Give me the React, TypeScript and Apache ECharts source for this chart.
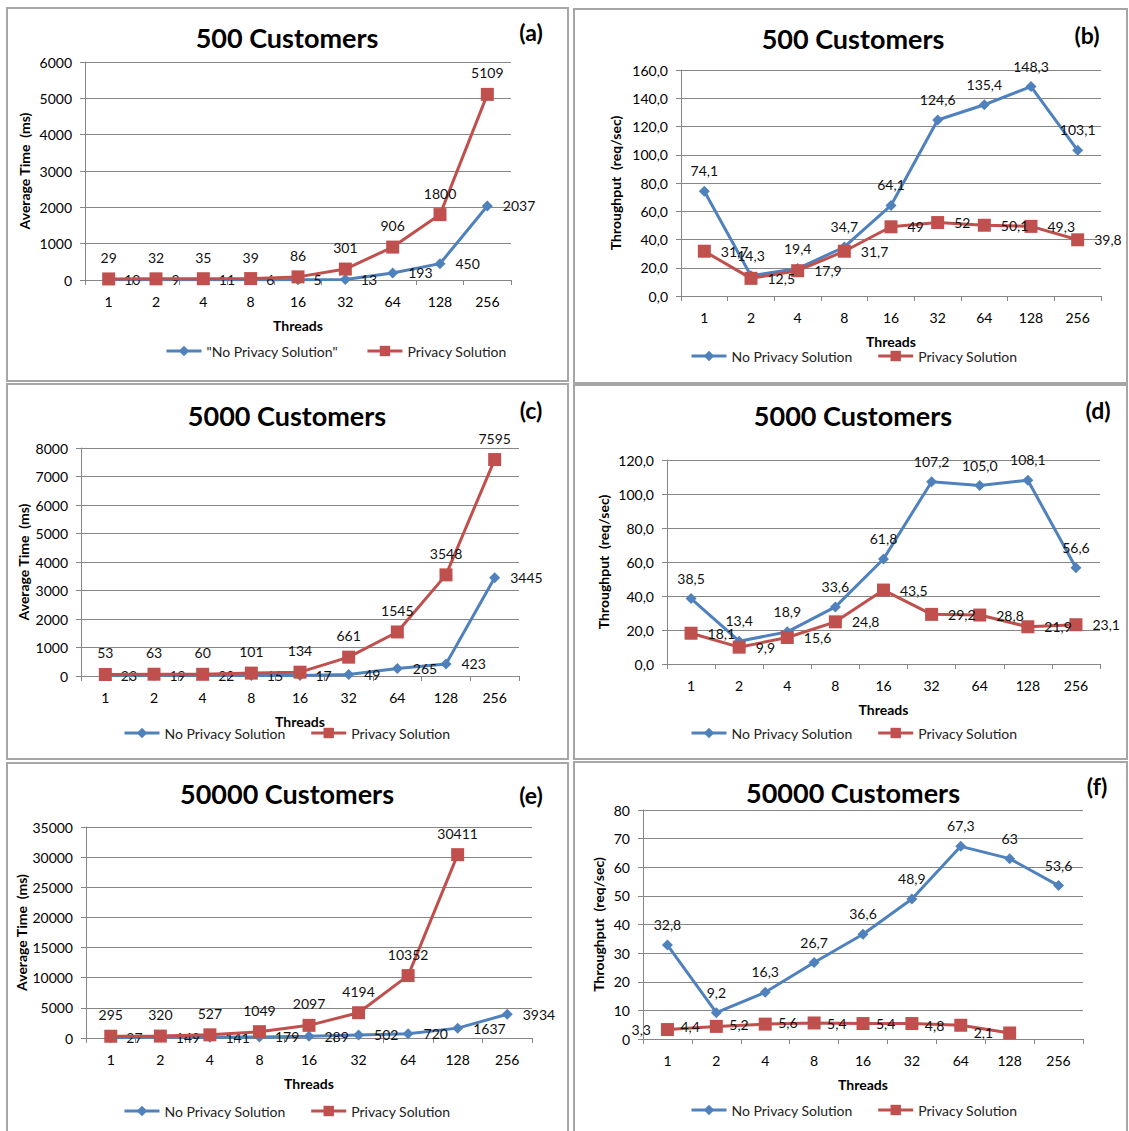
import React, { useEffect, useRef } from "react";
import * as echarts from "echarts";

const categories = ["1", "2", "4", "8", "16", "32", "64", "128", "256"];

const aNoPrivacy = [10, 9, 11, 6, 5, 13, 193, 450, 2037];
const aPrivacy = [29, 32, 35, 39, 86, 301, 906, 1800, 5109];
const bNoPrivacy = [74.1, 14.3, 19.4, 34.7, 64.1, 124.6, 135.4, 148.3, 103.1];
const bPrivacy = [31.7, 12.5, 17.9, 31.7, 49, 52, 50.1, 49.3, 39.8];
const cNoPrivacy = [23, 19, 22, 15, 17, 49, 265, 423, 3445];
const cPrivacy = [53, 63, 60, 101, 134, 661, 1545, 3548, 7595];
const dNoPrivacy = [38.5, 13.4, 18.9, 33.6, 61.8, 107.2, 105.0, 108.1, 56.6];
const dPrivacy = [18.1, 9.9, 15.6, 24.8, 43.5, 29.2, 28.8, 21.9, 23.1];
const eNoPrivacy = [27, 149, 141, 179, 289, 502, 720, 1637, 3934];
const ePrivacy = [295, 320, 527, 1049, 2097, 4194, 10352, 30411, null];
const fNoPrivacy = [32.8, 9.2, 16.3, 26.7, 36.6, 48.9, 67.3, 63, 53.6];
const fPrivacy = [3.3, 4.4, 5.2, 5.6, 5.4, 5.4, 4.8, 2.1, null];

const titles = ["500 Customers", "500 Customers", "5000 Customers", "5000 Customers", "50000 Customers", "50000 Customers"];
const tags = ["(a)", "(b)", "(c)", "(d)", "(e)", "(f)"];
const yNames = ["Average Time  (ms)", "Throughput  (req/sec)", "Average Time  (ms)", "Throughput  (req/sec)", "Average Time  (ms)", "Throughput  (req/sec)"];
const yMax = [6000, 160, 8000, 120, 35000, 80];
const yStep = [1000, 20, 1000, 20, 5000, 10];
const noPrivacyNames = ['"No Privacy Solution"', "No Privacy Solution", "No Privacy Solution", "No Privacy Solution", "No Privacy Solution", "No Privacy Solution"];
const privacyName = "Privacy Solution";

const FONT = "Lato, 'Open Sans', sans-serif";
const BLUE = "#4F81BD";
const RED = "#C0504D";
const GRAY = "#868686";

const comma = (v: number) => String(v).replace(".", ",");
const comma1 = (v: number) => v.toFixed(1).replace(".", ",");

// layout (pixels)
const boxes = [
  [7, 8, 561, 373],
  [574, 9, 553, 374],
  [7, 384, 561, 375],
  [574, 385, 553, 374],
  [7, 763, 561, 372],
  [574, 762, 553, 372],
];
const grids = [
  { left: 85, top: 62, width: 426, height: 218 },
  { left: 681, top: 70, width: 420, height: 226 },
  { left: 81, top: 448, width: 438, height: 228 },
  { left: 667, top: 460, width: 433, height: 204 },
  { left: 86, top: 827, width: 446, height: 211 },
  { left: 643, top: 810, width: 440, height: 229 },
];
const titlePos = [
  [287, 40], [853, 41], [287, 418], [853, 418], [287, 796], [853, 795],
];
const tagPos = [
  [531, 32], [1087, 35], [531, 410], [1098, 410], [531, 795], [1097, 786],
];
const yNameGap = [54, 59, 51, 57, 57, 38];
const legendPos = [
  [165, 352, 28], [690, 357, 24], [123, 734, 24], [690, 734, 24], [123, 1112, 24], [690, 1111, 24],
];

const panelData = [
  [aNoPrivacy, aPrivacy],
  [bNoPrivacy, bPrivacy],
  [cNoPrivacy, cPrivacy],
  [dNoPrivacy, dPrivacy],
  [eNoPrivacy, ePrivacy],
  [fNoPrivacy, fPrivacy],
];
// label positions [noPrivacy, privacy]
const labelPos = [
  ["right", "top"],
  ["top", "right"],
  ["right", "top"],
  ["top", "right"],
  ["right", "top"],
  ["top", "left"],
];
const labelFmt = [
  [comma, comma],
  [comma1, comma],
  [comma, comma],
  [comma1, comma1],
  [comma, comma],
  [comma, comma],
];
const yLabelFmt = [
  (v: number) => String(v),
  comma1,
  (v: number) => String(v),
  comma1,
  (v: number) => String(v),
  (v: number) => String(v),
];

function buildOption() {
  const title: any[] = [];
  const grid: any[] = [];
  const xAxis: any[] = [];
  const yAxis: any[] = [];
  const series: any[] = [];
  const legend: any[] = [];
  const graphic: any[] = [];

  for (let i = 0; i < 6; i++) {
    const b = boxes[i];
    graphic.push({
      type: "rect",
      shape: { x: b[0], y: b[1], width: b[2], height: b[3] },
      style: { fill: "none", stroke: "#a6a6a6", lineWidth: 2 },
      silent: true,
    });
    graphic.push({
      type: "text",
      x: tagPos[i][0],
      y: tagPos[i][1],
      style: {
        text: tags[i],
        font: `bold 23px ${FONT}`,
        fill: "#000",
        align: "center",
        verticalAlign: "middle",
      },
    });
    title.push({
      text: titles[i],
      left: titlePos[i][0],
      top: titlePos[i][1] - 16,
      textAlign: "center",
      padding: 0,
      textStyle: { fontFamily: FONT, fontWeight: "bold", fontSize: 27, color: "#000" },
    });
    grid.push({ ...grids[i], containLabel: false });
    xAxis.push({
      type: "category",
      gridIndex: i,
      data: categories,
      boundaryGap: true,
      axisLine: { show: true, lineStyle: { color: GRAY, width: 1 } },
      axisTick: { show: true, length: 5, lineStyle: { color: GRAY } },
      axisLabel: { margin: 14, fontSize: 14, color: "#000", fontFamily: FONT, interval: 0 },
      name: "Threads",
      nameLocation: "middle",
      nameGap: 38,
      nameTextStyle: { fontFamily: FONT, fontWeight: "bold", fontSize: 14, color: "#000" },
      splitLine: { show: false },
    });
    yAxis.push({
      type: "value",
      gridIndex: i,
      min: 0,
      max: yMax[i],
      interval: yStep[i],
      axisLine: { show: true, lineStyle: { color: GRAY, width: 1 } },
      axisTick: { show: true, length: 5, lineStyle: { color: GRAY } },
      axisLabel: { margin: 13, fontSize: 14, color: "#000", fontFamily: FONT, formatter: yLabelFmt[i] },
      splitLine: { show: true, lineStyle: { color: GRAY, width: 1 } },
      name: yNames[i],
      nameLocation: "middle",
      nameRotate: 90,
      nameGap: yNameGap[i],
      nameTextStyle: { fontFamily: FONT, fontWeight: "bold", fontSize: 14, color: "#000" },
    });
    const [np, p] = panelData[i];
    series.push({
      type: "line",
      name: noPrivacyNames[i],
      xAxisIndex: i,
      yAxisIndex: i,
      data: np,
      color: BLUE,
      lineStyle: { width: 3, color: BLUE },
      symbol: "diamond",
      symbolSize: 11,
      itemStyle: { color: BLUE },
      label: {
        show: true,
        position: labelPos[i][0],
        distance: labelPos[i][0] === "top" ? 8 : 10,
        fontSize: 14,
        fontFamily: FONT,
        color: "#111",
        formatter: (pr: any) => labelFmt[i][0](pr.value),
      },
      z: 2,
    });
    series.push({
      type: "line",
      name: privacyName,
      xAxisIndex: i,
      yAxisIndex: i,
      data: p,
      color: RED,
      lineStyle: { width: 3, color: RED },
      symbol: "rect",
      symbolSize: 13,
      itemStyle: { color: RED },
      label: {
        show: true,
        position: labelPos[i][1],
        distance: labelPos[i][1] === "top" ? 8 : 10,
        fontSize: 14,
        fontFamily: FONT,
        color: "#111",
        formatter: (pr: any) => (pr.value == null ? "" : labelFmt[i][1](pr.value)),
      },
      z: 3,
    });
    legend.push({
      left: legendPos[i][0],
      top: legendPos[i][1] - 8,
      itemGap: legendPos[i][2],
      itemWidth: 35,
      itemHeight: 13,
      padding: 0,
      data: [noPrivacyNames[i], privacyName],
      lineStyle: { width: 3 },
      textStyle: { fontFamily: FONT, fontSize: 14, color: "#222" },
      selectedMode: false,
    });
  }

  return {
    animation: false,
    backgroundColor: "#fff",
    title,
    grid,
    xAxis,
    yAxis,
    series,
    legend,
    graphic,
  };
}

export default function App() {
  const ref = useRef<HTMLDivElement>(null);
  useEffect(() => {
    if (!ref.current) return;
    const chart = echarts.init(ref.current, null, { renderer: "svg" });
    chart.setOption(buildOption() as any);
    return () => chart.dispose();
  }, []);
  return (
    <div
      ref={ref}
      style={{ position: "absolute", left: 0, top: 0, width: 1129, height: 1131, background: "#fff" }}
    />
  );
}
